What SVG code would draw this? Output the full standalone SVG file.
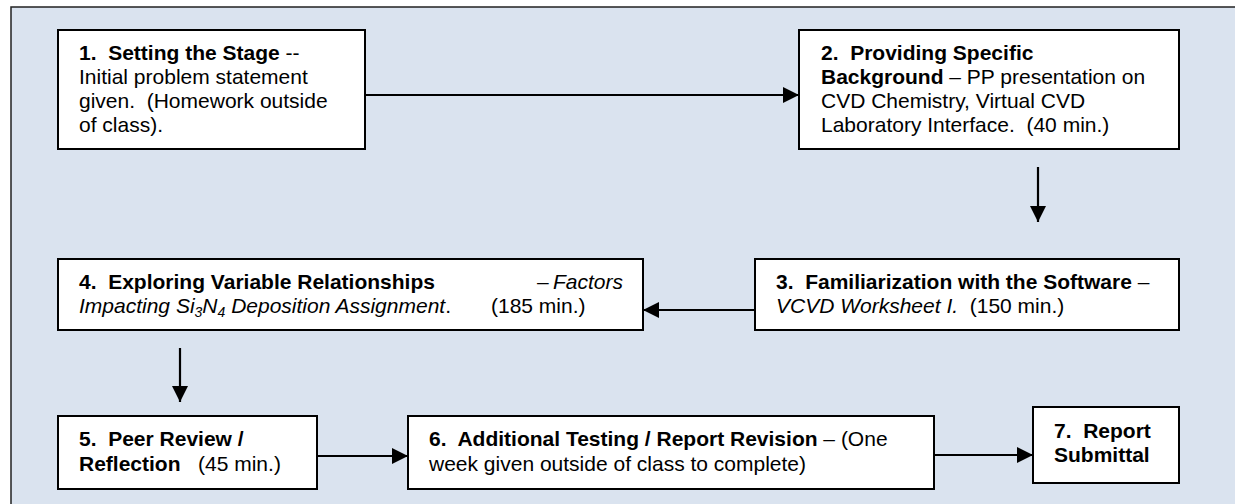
<svg xmlns="http://www.w3.org/2000/svg" width="1235" height="504" viewBox="0 0 1235 504">
<style>
.box{fill:#ffffff;stroke:#000000;stroke-width:2}
.t{font-family:"Liberation Sans",Arial,sans-serif;font-size:21px;fill:#000000}
.b{font-weight:bold}
.i{font-style:italic}
.con{stroke:#000000;stroke-width:2.2;fill:none;marker-end:url(#ah)}
</style>
<defs>
<marker id="ah" markerUnits="userSpaceOnUse" markerWidth="18" markerHeight="16" refX="16" refY="8" orient="auto">
<path d="M0,0 L16,8 L0,16 Z" fill="#000000"/>
</marker>
</defs>
<rect x="11" y="7" width="1240" height="510" fill="#dae3ef" stroke="#222222" stroke-width="1.5"/>
<g id="connectors">
<line class="con" x1="365" y1="95" x2="799" y2="95"/>
<line class="con" x1="1038" y1="167" x2="1038" y2="222"/>
<line class="con" x1="755" y1="310" x2="643" y2="310"/>
<line class="con" x1="180" y1="348" x2="180" y2="402"/>
<line class="con" x1="317" y1="456" x2="408" y2="456"/>
<line class="con" x1="934" y1="455" x2="1033" y2="455"/>
</g>
<g id="node1">
<rect class="box" x="58" y="30" width="307" height="119"/>
<text class="t" x="79" y="60" xml:space="preserve"><tspan class="b">1.  Setting the Stage</tspan> --</text>
<text class="t" x="79" y="84">Initial problem statement</text>
<text class="t" x="79" y="108" xml:space="preserve">given.  (Homework outside</text>
<text class="t" x="79" y="132">of class).</text>
</g>
<g id="node2">
<rect class="box" x="799" y="30" width="380" height="119"/>
<text class="t" x="821" y="60" xml:space="preserve"><tspan class="b">2.  Providing Specific</tspan></text>
<text class="t" x="821" y="84"><tspan class="b">Background</tspan> – PP presentation on</text>
<text class="t" x="821" y="108">CVD Chemistry, Virtual CVD</text>
<text class="t" x="821" y="132" xml:space="preserve">Laboratory Interface.  (40 min.)</text>
</g>
<g id="node3">
<rect class="box" x="755" y="259" width="424" height="71"/>
<text class="t" x="776" y="289" xml:space="preserve"><tspan class="b">3.  Familiarization with the Software</tspan> –</text>
<text class="t" x="776" y="313" xml:space="preserve"><tspan class="i">VCVD Worksheet I.</tspan>  (150 min.)</text>
</g>
<g id="node4">
<rect class="box" x="58" y="259" width="585" height="71"/>
<text class="t" x="79" y="289" xml:space="preserve"><tspan class="b">4.  Exploring Variable Relationships</tspan><tspan x="537">–</tspan><tspan class="i" x="553">Factors</tspan></text>
<text class="t" x="79" y="313" xml:space="preserve"><tspan class="i">Impacting Si</tspan><tspan class="i" font-size="14" dy="4">3</tspan><tspan class="i" dy="-4">N</tspan><tspan class="i" font-size="14" dy="4">4</tspan><tspan class="i" dy="-4"> Deposition Assignment</tspan>.<tspan x="491">(185 min.)</tspan></text>
</g>
<g id="node5">
<rect class="box" x="58" y="416" width="259" height="73"/>
<text class="t" x="79" y="446" xml:space="preserve"><tspan class="b">5.  Peer Review /</tspan></text>
<text class="t" x="79" y="471" xml:space="preserve"><tspan class="b">Reflection</tspan>   (45 min.)</text>
</g>
<g id="node6">
<rect class="box" x="408" y="416" width="526" height="73"/>
<text class="t" x="429" y="446" xml:space="preserve"><tspan class="b">6.  Additional Testing / Report Revision</tspan> – (One</text>
<text class="t" x="429" y="471">week given outside of class to complete)</text>
</g>
<g id="node7">
<rect class="box" x="1033" y="407" width="146" height="76"/>
<text class="t b" x="1054" y="438" xml:space="preserve">7.  Report</text>
<text class="t b" x="1054" y="462">Submittal</text>
</g>
</svg>
